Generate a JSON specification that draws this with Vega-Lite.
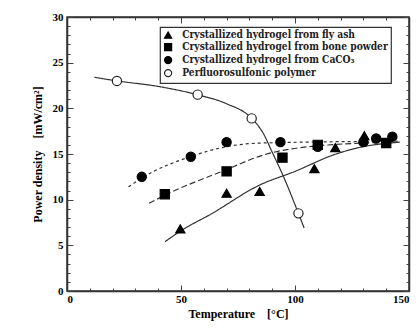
{
  "$schema": "https://vega.github.io/schema/vega-lite/v6.json",
  "width": 342,
  "height": 274,
  "autosize": "none",
  "padding": {"left": 67, "top": 17, "right": 11, "bottom": 44},
  "background": "white",
  "config": {
    "view": {"stroke": "#333", "strokeWidth": 1.5},
    "font": "Liberation Serif",
    "axis": {"grid": false, "domainColor": "#333", "domainWidth": 1.5, "tickColor": "#444", "labelFont": "Liberation Serif", "labelFontWeight": "bold", "labelFontSize": 11, "labelColor": "black", "titleFont": "Liberation Serif", "titleFontWeight": "bold", "titleFontSize": 12, "titleColor": "black"},
    "legend": {"orient": "none", "legendX": 93, "legendY": 10, "strokeColor": "#333", "strokeWidth": 1.2, "padding": 3, "fillColor": "white", "labelFont": "DejaVu Serif Condensed", "labelFontWeight": "bold", "labelFontSize": 10.2, "labelColor": "#222", "symbolSize": 50, "symbolStrokeWidth": 1.2, "rowPadding": 0, "labelLimit": 300, "labelOffset": 9}
  },
  "datasets": {
    "pts": [
      {"series": "Crystallized hydrogel from fly ash", "t": 49.7, "p": 6.8},
      {"series": "Crystallized hydrogel from fly ash", "t": 70, "p": 10.7},
      {"series": "Crystallized hydrogel from fly ash", "t": 84.5, "p": 10.9},
      {"series": "Crystallized hydrogel from fly ash", "t": 108.5, "p": 13.4},
      {"series": "Crystallized hydrogel from fly ash", "t": 117.7, "p": 15.7},
      {"series": "Crystallized hydrogel from fly ash", "t": 130.4, "p": 17.0},
      {"series": "Crystallized hydrogel from bone powder", "t": 42.9, "p": 10.6},
      {"series": "Crystallized hydrogel from bone powder", "t": 70, "p": 13.1},
      {"series": "Crystallized hydrogel from bone powder", "t": 94.5, "p": 14.6},
      {"series": "Crystallized hydrogel from bone powder", "t": 110, "p": 16.0},
      {"series": "Crystallized hydrogel from bone powder", "t": 140, "p": 16.2},
      {"series": "Crystallized hydrogel from CaCO₃", "t": 32.8, "p": 12.5},
      {"series": "Crystallized hydrogel from CaCO₃", "t": 54.3, "p": 14.7},
      {"series": "Crystallized hydrogel from CaCO₃", "t": 70, "p": 16.3},
      {"series": "Crystallized hydrogel from CaCO₃", "t": 93.6, "p": 16.3},
      {"series": "Crystallized hydrogel from CaCO₃", "t": 110, "p": 15.8},
      {"series": "Crystallized hydrogel from CaCO₃", "t": 130, "p": 16.3},
      {"series": "Crystallized hydrogel from CaCO₃", "t": 135.6, "p": 16.7},
      {"series": "Crystallized hydrogel from CaCO₃", "t": 142.7, "p": 16.9},
      {"series": "Perfluorosulfonic polymer", "t": 21.9, "p": 23.0},
      {"series": "Perfluorosulfonic polymer", "t": 57.3, "p": 21.5},
      {"series": "Perfluorosulfonic polymer", "t": 81, "p": 18.9},
      {"series": "Perfluorosulfonic polymer", "t": 101.5, "p": 8.5}
    ],
    "fits": [
      {"fit": "fly", "t": 43, "p": 5.4},
      {"fit": "fly", "t": 50, "p": 6.6},
      {"fit": "fly", "t": 63, "p": 8.4},
      {"fit": "fly", "t": 84.5, "p": 11.6},
      {"fit": "fly", "t": 100, "p": 13.1},
      {"fit": "fly", "t": 118, "p": 15.0},
      {"fit": "fly", "t": 128, "p": 15.7},
      {"fit": "fly", "t": 146, "p": 16.3},
      {"fit": "bone", "t": 36, "p": 9.6},
      {"fit": "bone", "t": 43, "p": 10.5},
      {"fit": "bone", "t": 70, "p": 13.3},
      {"fit": "bone", "t": 85, "p": 14.8},
      {"fit": "bone", "t": 110, "p": 15.9},
      {"fit": "bone", "t": 145, "p": 16.3},
      {"fit": "caco", "t": 27, "p": 11.4},
      {"fit": "caco", "t": 33, "p": 12.4},
      {"fit": "caco", "t": 54, "p": 14.7},
      {"fit": "caco", "t": 70, "p": 15.8},
      {"fit": "caco", "t": 85, "p": 16.2},
      {"fit": "caco", "t": 145, "p": 16.4},
      {"fit": "pfs", "t": 12, "p": 23.4},
      {"fit": "pfs", "t": 22, "p": 23.0},
      {"fit": "pfs", "t": 40, "p": 22.4},
      {"fit": "pfs", "t": 57, "p": 21.5},
      {"fit": "pfs", "t": 70, "p": 20.5},
      {"fit": "pfs", "t": 81, "p": 18.9},
      {"fit": "pfs", "t": 86, "p": 17.3},
      {"fit": "pfs", "t": 90, "p": 15.2},
      {"fit": "pfs", "t": 95, "p": 12.5},
      {"fit": "pfs", "t": 101.5, "p": 8.5},
      {"fit": "pfs", "t": 104, "p": 6.9}
    ]
  },
  "layer": [
    {
      "data": {"name": "fits"},
      "mark": {"type": "line", "interpolate": "monotone", "color": "#333", "strokeWidth": 1.2},
      "encoding": {
        "x": {"field": "t", "type": "quantitative", "scale": {"domain": [0, 150], "nice": false},
          "axis": {"orient": "bottom", "title": "Temperature\u2002\u2002[°C]", "values": [0,10,20,30,40,50,60,70,80,90,100,110,120,130,140,150], "labelExpr": "datum.value % 50 === 0 ? datum.label : ''", "tickSize": {"condition": {"test": "datum.value % 50 === 0", "value": -6}, "value": -3}, "labelPadding": 8, "titlePadding": 4}},
        "y": {"field": "p", "type": "quantitative", "scale": {"domain": [0, 30], "nice": false},
          "axis": {"orient": "left", "title": "Power density\u2002\u2002[mW/cm²]", "values": [0,1,2,3,4,5,6,7,8,9,10,11,12,13,14,15,16,17,18,19,20,21,22,23,24,25,26,27,28,29,30], "labelExpr": "datum.value % 5 === 0 ? datum.label : ''", "tickSize": {"condition": {"test": "datum.value % 5 === 0", "value": -6}, "value": -3}, "labelPadding": 10, "titlePadding": 8}},
        "detail": {"field": "fit"},
        "strokeDash": {"field": "fit", "type": "nominal", "scale": {"domain": ["fly", "bone", "caco", "pfs"], "range": [[1, 0], [6, 3], [3, 3], [1, 0]]}, "legend": null}
      }
    },
    {
      "data": {"name": "pts"},
      "mark": {"type": "point", "filled": true, "strokeWidth": 1.2, "opacity": 1},
      "encoding": {
        "x": {"field": "t", "type": "quantitative", "axis": {"orient": "top", "title": null, "labels": false, "values": [0,10,20,30,40,50,60,70,80,90,100,110,120,130,140,150], "tickSize": {"condition": {"test": "datum.value % 50 === 0", "value": -6}, "value": -3}}},
        "y": {"field": "p", "type": "quantitative", "axis": {"orient": "right", "title": null, "labels": false, "values": [0,1,2,3,4,5,6,7,8,9,10,11,12,13,14,15,16,17,18,19,20,21,22,23,24,25,26,27,28,29,30], "tickSize": {"condition": {"test": "datum.value % 5 === 0", "value": -6}, "value": -3}}},
        "shape": {"field": "series", "type": "nominal", "title": null,
          "scale": {"domain": ["Crystallized hydrogel from fly ash", "Crystallized hydrogel from bone powder", "Crystallized hydrogel from CaCO₃", "Perfluorosulfonic polymer"], "range": ["triangle-up", "square", "circle", "circle"]}},
        "fill": {"field": "series", "type": "nominal", "title": null,
          "scale": {"domain": ["Crystallized hydrogel from fly ash", "Crystallized hydrogel from bone powder", "Crystallized hydrogel from CaCO₃", "Perfluorosulfonic polymer"], "range": ["black", "black", "black", "white"]}},
        "stroke": {"field": "series", "type": "nominal", "title": null,
          "scale": {"domain": ["Crystallized hydrogel from fly ash", "Crystallized hydrogel from bone powder", "Crystallized hydrogel from CaCO₃", "Perfluorosulfonic polymer"], "range": ["black", "black", "black", "#222"]}},
        "size": {"value": 85}
      }
    }
  ],
  "resolve": {"axis": {"x": "independent", "y": "independent"}}
}
